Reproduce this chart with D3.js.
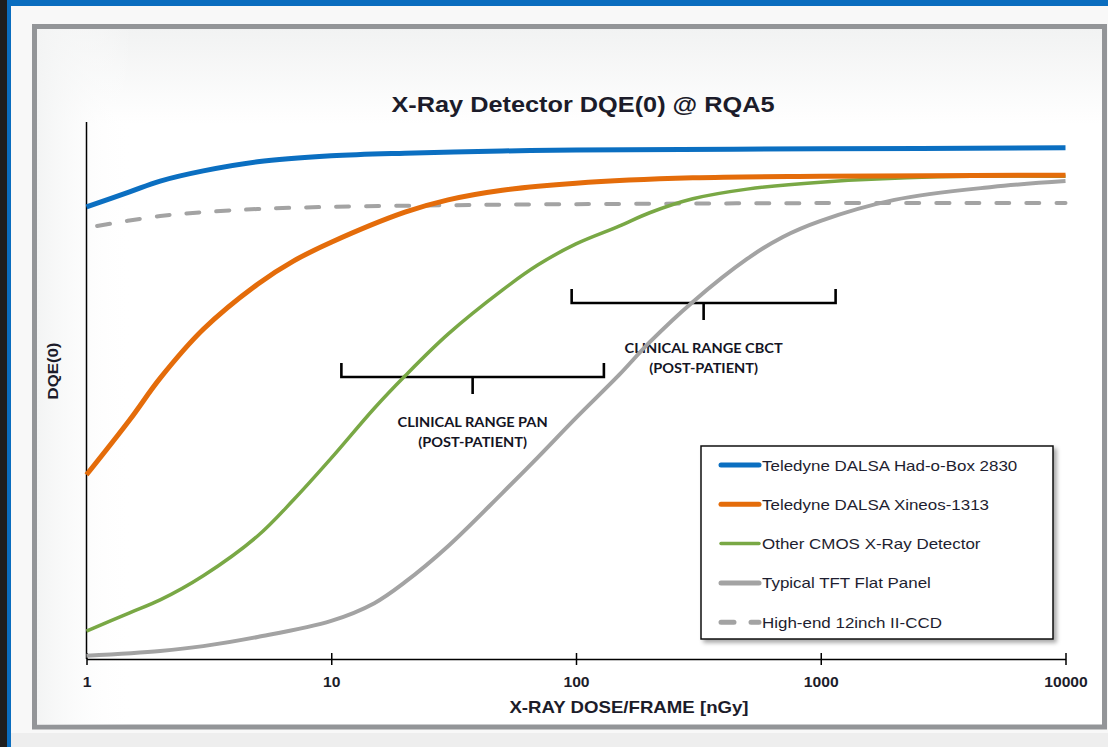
<!DOCTYPE html>
<html>
<head>
<meta charset="utf-8">
<script src="https://cdn.jsdelivr.net/npm/d3@7/dist/d3.min.js"></script>
<style>
html,body{margin:0;padding:0;background:#f6f6f6;}
svg{display:block;}
</style>
</head>
<body>
<svg id="chart" width="1108" height="747"></svg>
<script>
// ---------- data ----------
const doseTicks = [1, 10, 100, 1000, 10000];

const hadoboxDose = [1, 1.5, 2, 3, 5, 10, 20, 50, 100, 1000, 10000];
const hadoboxDqe  = [0.842, 0.870, 0.890, 0.909, 0.926, 0.937, 0.942, 0.946, 0.948, 0.950, 0.952];

const xineosDose = [1, 1.5, 2, 3, 5, 7, 10, 20, 30, 50, 100, 300, 1000, 10000];
const xineosDqe  = [0.343, 0.445, 0.523, 0.614, 0.698, 0.741, 0.776, 0.832, 0.855, 0.873, 0.886, 0.896, 0.899, 0.901];

const cmosDose = [1, 1.5, 2, 3, 5, 7, 10, 15, 20, 30, 50, 70, 100, 150, 200, 300, 500, 1000, 3000, 10000];
const cmosDqe  = [0.052, 0.086, 0.110, 0.155, 0.229, 0.296, 0.374, 0.467, 0.527, 0.605, 0.687, 0.734, 0.773, 0.806, 0.831, 0.857, 0.875, 0.888, 0.898, 0.899];

const tftDose = [1, 2, 3, 5, 10, 15, 20, 30, 50, 70, 100, 150, 200, 300, 500, 700, 1000, 2000, 5000, 10000];
const tftDqe  = [0.006, 0.015, 0.024, 0.041, 0.071, 0.104, 0.143, 0.210, 0.309, 0.376, 0.449, 0.529, 0.590, 0.665, 0.745, 0.786, 0.816, 0.855, 0.879, 0.890];

const ccdDose = [1, 2, 3, 5, 10, 30, 100, 1000, 10000];
const ccdDqe  = [0.803, 0.825, 0.832, 0.838, 0.842, 0.845, 0.847, 0.849, 0.849];

const seriesNames = [
  "Teledyne DALSA Had-o-Box 2830",
  "Teledyne DALSA Xineos-1313",
  "Other CMOS X-Ray Detector",
  "Typical TFT Flat Panel",
  "High-end 12inch II-CCD"
];
const seriesColors = ["#0b6fc1", "#e46c0a", "#79a845", "#a3a3a3", "#a3a3a3"];

const rangeNames = [["CLINICAL RANGE PAN", "(POST-PATIENT)"], ["CLINICAL RANGE CBCT", "(POST-PATIENT)"]];
const rangeDose  = [[11, 130], [96, 1150]];

// ---------- setup ----------
const svg = d3.select("#chart");
const W = 1108, H = 747;
const SX = 1.13; // horizontal stretch of reference text

const defs = svg.append("defs");
const g1 = defs.append("linearGradient").attr("id","innerGrad").attr("x1",0).attr("y1",0).attr("x2",0).attr("y2",1);
g1.append("stop").attr("offset","0%").attr("stop-color","#f1f2f2");
g1.append("stop").attr("offset","14%").attr("stop-color","#ffffff");
g1.append("stop").attr("offset","100%").attr("stop-color","#ffffff");
const g2 = defs.append("linearGradient").attr("id","innerGradL").attr("x1",0).attr("y1",0).attr("x2",1).attr("y2",0);
g2.append("stop").attr("offset","0%").attr("stop-color","#f3f4f4").attr("stop-opacity",1);
g2.append("stop").attr("offset","9%").attr("stop-color","#ffffff").attr("stop-opacity",0);
const sh = defs.append("filter").attr("id","shadow").attr("x","-10%").attr("y","-10%").attr("width","130%").attr("height","130%");
sh.append("feDropShadow").attr("dx",3).attr("dy",3).attr("stdDeviation",2).attr("flood-color","#000").attr("flood-opacity",0.35);

// page background
svg.append("rect").attr("x",0).attr("y",0).attr("width",W).attr("height",H).attr("fill","#f8f8f8");
svg.append("rect").attr("x",0).attr("y",733).attr("width",W).attr("height",14).attr("fill","#eeeeee");
// left dark strip + blue border
svg.append("rect").attr("x",0).attr("y",0).attr("width",7).attr("height",H).attr("fill","#1e1e1e");
svg.append("rect").attr("x",7).attr("y",0).attr("width",4).attr("height",H).attr("fill","#0a6dbf");
svg.append("rect").attr("x",7).attr("y",0).attr("width",W-7).attr("height",6).attr("fill","#0a6dbf");

// frame
svg.append("rect").attr("x",34.5).attr("y",26.5).attr("width",1070).attr("height",700.5)
  .attr("fill","url(#innerGrad)").attr("stroke","#939598").attr("stroke-width",5);
svg.append("rect").attr("x",37).attr("y",29).attr("width",1065).attr("height",695.5)
  .attr("fill","url(#innerGradL)");

// scales
const x = d3.scaleLog().domain([1, 10000]).range([86.5, 1065.5]);
const y = d3.scaleLinear().domain([0, 1]).range([659, 122]);

// helper for stretched text
function sText(parent, tx, ty, str, opts) {
  const t = parent.append("text")
    .attr("transform", `translate(${tx},${ty}) scale(${opts.sx || SX},1)`)
    .attr("text-anchor", opts.anchor || "middle")
    .attr("font-family", opts.family || "Liberation Sans, Arial, sans-serif")
    .attr("font-size", opts.size)
    .attr("font-weight", opts.weight || "normal")
    .attr("fill", opts.fill || "#1c1c2a")
    .text(str);
  return t;
}

// title
sText(svg, 583, 112, "X-Ray Detector DQE(0) @ RQA5", {size: 22.4, weight: "bold"});

// axes
svg.append("line").attr("x1",86.5).attr("x2",86.5).attr("y1",122).attr("y2",659)
  .attr("stroke","#000").attr("stroke-width",1.5);
const xAxis = d3.axisBottom(x).tickValues(doseTicks).tickSizeInner(6).tickSizeOuter(0).tickFormat(d3.format("d"));
const xg = svg.append("g").attr("transform","translate(0,659)").call(xAxis);
xg.select(".domain").attr("stroke","#000").attr("stroke-width",1.5);
xg.selectAll(".tick line").attr("y1",-6).attr("y2",6).attr("stroke","#000").attr("stroke-width",1.5);
xg.selectAll(".tick text").remove();
xg.selectAll(".tick").each(function(d){
  sText(d3.select(this), 0, 27.5, d3.format("d")(d), {size: 14.5, weight: "bold", sx: 1.08});
});

// axis titles
sText(svg, 629, 713, "X-RAY DOSE/FRAME [nGy]", {size: 16.5, weight: "bold"});
svg.append("text")
  .attr("transform","translate(58,371) rotate(-90) scale(1.12,1)")
  .attr("text-anchor","middle")
  .attr("font-family","Liberation Sans, Arial, sans-serif")
  .attr("font-size",15).attr("font-weight","bold").attr("fill","#1c1c2a")
  .text("DQE(0)");

// clinical ranges
const brackets = svg.append("g");
rangeDose.forEach((r, i) => {
  const xl = x(r[0]), xr = x(r[1]);
  const xc = x(Math.sqrt(r[0]*r[1]));
  const yl = i === 0 ? 377 : 303;
  brackets.append("path")
    .attr("d", `M${xl},${yl-14}V${yl}H${xr}V${yl-14}M${xc},${yl}V${yl+17}`)
    .attr("fill","none").attr("stroke","#000").attr("stroke-width",2.6);
  sText(brackets, xc, yl + 50, rangeNames[i][0], {size: 14, weight: "bold", family: "Lato, sans-serif", sx: 1.04, fill: "#141424"});
  sText(brackets, xc, yl + 70, rangeNames[i][1], {size: 14, weight: "bold", family: "Lato, sans-serif", sx: 1.04, fill: "#141424"});
});

// series
const line = d3.line().x(d => x(d[0])).y(d => y(d[1])).curve(d3.curveCatmullRom.alpha(0.5));
const zip = (a, b) => a.map((v, i) => [v, b[i]]);
const seriesData = [
  zip(hadoboxDose, hadoboxDqe),
  zip(xineosDose, xineosDqe),
  zip(cmosDose, cmosDqe),
  zip(tftDose, tftDqe),
  zip(ccdDose, ccdDqe)
];
const widths = [5, 5, 3.5, 4, 4];
const dashes = [null, null, null, null, "13,17"];
const drawOrder = [4, 3, 2, 1, 0];
drawOrder.forEach(i => {
  svg.append("path").datum(seriesData[i])
    .attr("d", line)
    .attr("fill","none")
    .attr("stroke", seriesColors[i])
    .attr("stroke-width", widths[i])
    .attr("stroke-linecap", dashes[i] ? "round" : "butt")
    .attr("stroke-dasharray", dashes[i])
    .attr("stroke-dashoffset", dashes[i] ? -11 : null);
});

// legend
const lg = svg.append("g");
lg.append("rect").attr("x",701).attr("y",446).attr("width",352).attr("height",193)
  .attr("fill","#fff").attr("stroke","#111").attr("stroke-width",1.5).attr("filter","url(#shadow)");
seriesNames.forEach((name, i) => {
  const yy = 465 + i * 39.3;
  lg.append("line").attr("x1",721).attr("x2",759).attr("y1",yy).attr("y2",yy)
    .attr("stroke", seriesColors[i]).attr("stroke-width", i === 2 ? 3.5 : 5)
    .attr("stroke-linecap","round")
    .attr("stroke-dasharray", i === 4 ? "13,17" : null);
  sText(lg, 762, yy + 5.5, name, {size: 15, anchor: "start", fill: "#1e1e30"});
});
</script>
</body>
</html>
